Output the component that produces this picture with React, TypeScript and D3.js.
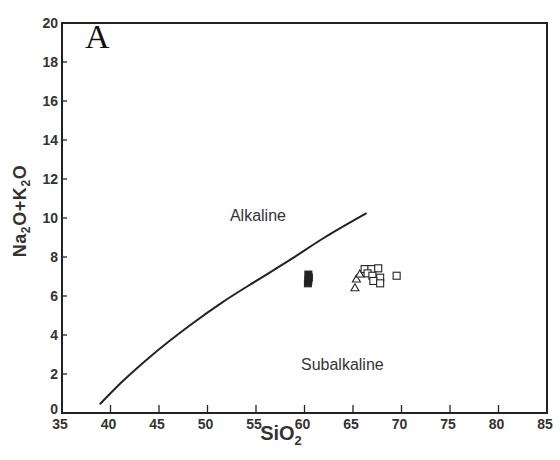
import React from "react";
import * as d3 from "d3";

const xTicks = [35, 40, 45, 50, 55, 60, 65, 70, 75, 80, 85];
const yTicks = [0, 2, 4, 6, 8, 10, 12, 14, 16, 18, 20];

// Irvine & Baragar alkaline / subalkaline divide
const curveSiO2 = [38.9, 41.3, 44.0, 48.2, 51.6, 55.1, 58.5, 61.9, 66.4];
const curveAlk = [0.45, 1.65, 2.85, 4.5, 5.7, 6.8, 7.85, 8.95, 10.25];

const filledSiO2 = [60.35, 60.4, 60.45, 60.4];
const filledAlk = [6.65, 6.8, 6.95, 7.1];

const triSiO2 = [65.2, 65.35, 65.7];
const triAlk = [6.45, 6.9, 7.15];

const openSiO2 = [66.2, 66.9, 67.6, 66.5, 67.0, 67.8, 67.1, 67.8, 69.5];
const openAlk = [7.38, 7.38, 7.42, 7.16, 7.04, 6.94, 6.77, 6.65, 7.04];

export default function App() {
  const W = 560, H = 460;
  const x = d3.scaleLinear().domain([35, 85]).range([62, 547]);
  const y = d3.scaleLinear().domain([0, 20]).range([413, 23]);
  const ink = "#222";
  const txt = "#333";
  const font = "'Liberation Sans', Arial, sans-serif";

  const line = d3
    .line<number>()
    .x((_, i) => x(curveSiO2[i]))
    .y((_, i) => y(curveAlk[i]))
    .curve(d3.curveMonotoneX);
  const curvePath = line(curveSiO2) || "";

  const sq = 7;
  const triPath = (cx: number, cy: number) => {
    const s = 8;
    const h = s * 0.87;
    return `M${cx},${cy - h / 2}L${cx + s / 2},${cy + h / 2}L${cx - s / 2},${cy + h / 2}Z`;
  };

  return (
    <svg
      width={W}
      height={H}
      style={{ position: "absolute", left: 0, top: 0, background: "#fff" }}
    >
      <rect x={0} y={0} width={W} height={H} fill="#fff" />
      {/* frame */}
      <rect
        x={x(35)}
        y={y(20)}
        width={x(85) - x(35)}
        height={y(0) - y(20)}
        fill="none"
        stroke={ink}
        strokeWidth={2}
      />
      {/* x ticks (inside) */}
      {xTicks.map((t) => (
        <g key={"xt" + t}>
          {t > 35 && t < 85 && (
            <line x1={x(t)} x2={x(t)} y1={y(0)} y2={y(0) - 8} stroke={ink} strokeWidth={1.3} />
          )}
          <text
            x={x(t) - 2}
            y={y(0) + 16}
            textAnchor="middle"
            fontFamily={font}
            fontWeight="bold"
            fontSize={14}
            fill={txt}
          >
            {t}
          </text>
        </g>
      ))}
      {/* y ticks (inside) */}
      {yTicks.map((t) => (
        <g key={"yt" + t}>
          {t > 0 && t < 20 && (
            <line x1={x(35)} x2={x(35) + 5} y1={y(t)} y2={y(t)} stroke={ink} strokeWidth={1.3} />
          )}
          <text
            x={x(35) - 4}
            y={y(t) + (t === 0 ? 1 : 5)}
            textAnchor="end"
            fontFamily={font}
            fontWeight="bold"
            fontSize={14}
            fill={txt}
          >
            {t}
          </text>
        </g>
      ))}
      {/* curve */}
      <path d={curvePath} fill="none" stroke={ink} strokeWidth={2} />
      {/* filled squares */}
      {filledSiO2.map((v, i) => (
        <rect
          key={"f" + i}
          x={x(v) - sq / 2}
          y={y(filledAlk[i]) - sq / 2}
          width={sq}
          height={sq}
          fill={ink}
          stroke={ink}
          strokeWidth={1}
        />
      ))}
      {/* triangles */}
      {triSiO2.map((v, i) => (
        <path
          key={"t" + i}
          d={triPath(x(v), y(triAlk[i]))}
          fill="#fff"
          stroke={ink}
          strokeWidth={1.1}
        />
      ))}
      {/* open squares */}
      {openSiO2.map((v, i) => (
        <rect
          key={"o" + i}
          x={x(v) - sq / 2}
          y={y(openAlk[i]) - sq / 2}
          width={sq}
          height={sq}
          fill="#fff"
          stroke={ink}
          strokeWidth={1.1}
        />
      ))}
      {/* region labels */}
      <text x={x(55.2)} y={y(9.85)} textAnchor="middle" fontFamily={font} fontSize={16} fill={txt}>
        Alkaline
      </text>
      <text x={x(63.9)} y={y(2.2)} textAnchor="middle" fontFamily={font} fontSize={16} fill={txt}>
        Subalkaline
      </text>
      {/* panel letter */}
      <text x={85} y={48} fontFamily="'Liberation Serif', 'Times New Roman', serif" fontSize={34} fill="#111">
        A
      </text>
      {/* axis titles */}
      <text x={281} y={440} textAnchor="middle" fontFamily={font} fontWeight="bold" fontSize={20} fill={txt}>
        SiO<tspan fontSize={13} dy={5}>2</tspan>
      </text>
      <text
        transform="translate(26,211) rotate(-90)"
        textAnchor="middle"
        fontFamily={font}
        fontWeight="bold"
        fontSize={18}
        letterSpacing={0.6}
        fill={txt}
      >
        Na<tspan fontSize={12} dy={4}>2</tspan>
        <tspan dy={-4}>O+K</tspan>
        <tspan fontSize={12} dy={4}>2</tspan>
        <tspan dy={-4}>O</tspan>
      </text>
    </svg>
  );
}
